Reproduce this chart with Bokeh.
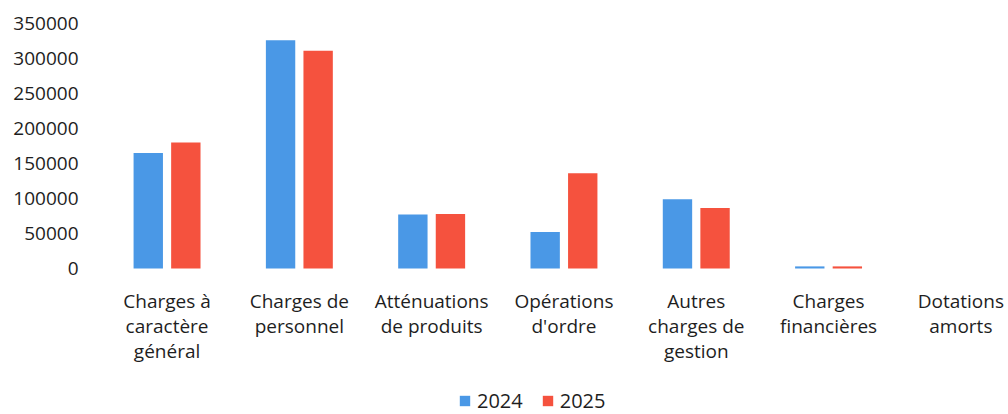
from bokeh.plotting import figure
from bokeh.models import Range1d, FixedTicker, BasicTickFormatter, Legend, LegendItem
from bokeh.core.properties import value
from bokeh.embed import file_html
from bokeh.resources import INLINE
import numpy as np

categories = ["Charges à\ncaractère\ngénéral", "Charges de\npersonnel", "Atténuations\nde produits",
              "Opérations\nd'ordre", "Autres\ncharges de\ngestion", "Charges\nfinancières", "Dotations\namorts"]
series_names = ["2024", "2025"]
values_2024 = [165000, 326000, 77000, 52000, 99000, 3000, 0]
values_2025 = [180000, 311000, 78000, 136000, 86500, 3000, 0]
y_ticks = [0, 50000, 100000, 150000, 200000, 250000, 300000, 350000]

BLUE = "#4a98e6"
RED = "#f5523e"
FONT = "Open Sans"
TXT = "#1e1e1e"

idx = np.arange(len(categories))

# frame spans from the top value down to the bottom of the canvas (labels and legend live inside it)
y_top = 350000
y_bottom = -y_top * 146 / 245

p = figure(width=1008, height=414, output_backend="svg", toolbar_location=None,
           x_range=Range1d(-0.503, 6.36), y_range=Range1d(y_bottom, y_top),
           min_border_left=100, min_border_right=0, min_border_top=23, min_border_bottom=0)
p.outline_line_color = None
p.background_fill_color = "white"
p.border_fill_color = "white"
p.xgrid.visible = False
p.ygrid.visible = False
p.xaxis.visible = False

r1 = p.vbar(x=idx - 0.142, top=values_2024, width=0.222, fill_color=BLUE, line_color=None)
r2 = p.vbar(x=idx + 0.142, top=values_2025, width=0.222, fill_color=RED, line_color=None)

# category labels under the bars
p.text(x=idx, y=[0] * len(categories), text=categories, y_offset=19,
       text_font=value(FONT), text_font_size="19px", text_color=TXT,
       text_align="center", text_baseline="top", text_line_height=0.98)

ax = p.yaxis[0]
ax.ticker = FixedTicker(ticks=y_ticks)
ax.formatter = BasicTickFormatter(use_scientific=False)
ax.axis_line_color = None
ax.major_tick_line_color = None
ax.minor_tick_line_color = None
ax.major_tick_out = 0
ax.major_tick_in = 0
ax.major_label_text_font = FONT
ax.major_label_text_font_size = "19px"
ax.major_label_text_color = TXT
ax.major_label_standoff = 22

legend = Legend(items=[LegendItem(label=series_names[0], renderers=[r1]),
                       LegendItem(label=series_names[1], renderers=[r2])],
                orientation="horizontal", location=(358, 0),
                label_text_font=FONT, label_text_font_size="20px", label_text_color=TXT,
                label_height=22,
                glyph_width=13, glyph_height=13, label_standoff=6, spacing=18,
                border_line_color=None, background_fill_alpha=0, margin=0, padding=0)
p.add_layout(legend, "center")

open("out.html", "w").write(file_html(p, INLINE))
